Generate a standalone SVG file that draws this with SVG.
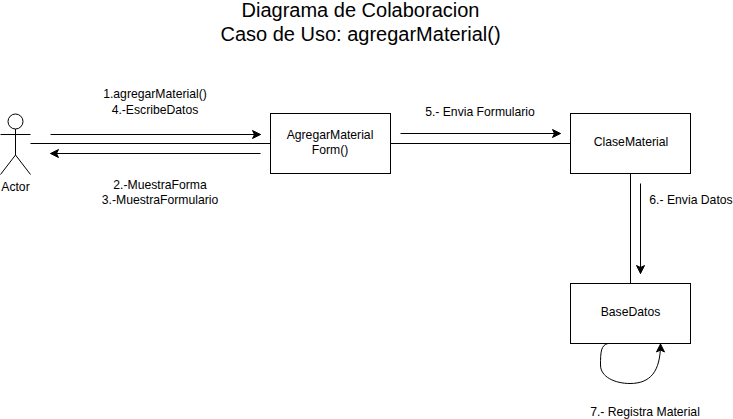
<svg xmlns="http://www.w3.org/2000/svg" width="733" height="419" viewBox="0 0 733 419">
<style>
text{font-family:"Liberation Sans",Arial,sans-serif;font-size:12.2px;fill:#000;text-anchor:middle}
.t{font-size:20px}
.n{fill:#fff;stroke:#000;stroke-width:1}
.l{fill:none;stroke:#000;stroke-width:1}
</style>
<defs><marker id="a" markerUnits="userSpaceOnUse" markerWidth="10" markerHeight="10" refX="9" refY="5" orient="auto"><path d="M1 1L9 5L1 9L3 5Z" fill="#000" stroke="#000" stroke-width="1"/></marker></defs>
<rect width="733" height="419" fill="#fff"/>
<text class="t" x="360.500" y="16.500">Diagrama de Colaboracion</text>
<text class="t" x="360.500" y="40.500">Caso de Uso: agregarMaterial()</text>
<g id="connectors">
<path class="l" d="M30.500 143.500H270.500"/>
<path class="l" d="M390.500 143.500H570.500"/>
<path class="l" d="M630.500 173.500V283.500"/>
<path class="l" marker-end="url(#a)" d="M50.500 134.500H260.500"/>
<path class="l" marker-end="url(#a)" d="M260.500 153.500H50.500"/>
<path class="l" marker-end="url(#a)" d="M400.500 133.500H560.500"/>
<path class="l" marker-end="url(#a)" d="M640.500 183.500V273.500"/>
<path class="l" marker-end="url(#a)" d="M608 343.500C601 345 600.500 352 600.500 365C600.500 377 615 383.500 630 383.500C650 383.500 660.500 372 660.500 344"/>
</g>
<g id="actor">
<circle class="l" cx="15.500" cy="121.500" r="7.500"/>
<path class="l" d="M15.500 129V155M0.500 134.500H30.500M15.500 155L0.500 174.500M15.500 155L30.500 174.500"/>
<text x="15.500" y="191">Actor</text>
</g>
<g id="agregarMaterialForm"><rect class="n" x="270.500" y="113.500" width="120" height="60"/><text x="330" y="139">AgregarMaterial</text><text x="330" y="154">Form()</text></g>
<g id="claseMaterial"><rect class="n" x="570.500" y="113.500" width="120" height="60"/><text x="631" y="146">ClaseMaterial</text></g>
<g id="baseDatos"><rect class="n" x="570.500" y="283.500" width="120" height="60"/><text x="630.500" y="316">BaseDatos</text></g>
<g id="labels">
<text x="155" y="98">1.agregarMaterial()</text>
<text x="155" y="114">4.-EscribeDatos</text>
<text x="160" y="189">2.-MuestraForma</text>
<text x="160" y="204">3.-MuestraFormulario</text>
<text x="480" y="116">5.- Envia Formulario</text>
<text x="691" y="204">6.- Envia Datos</text>
<text x="645" y="416">7.- Registra Material</text>
</g>
</svg>
